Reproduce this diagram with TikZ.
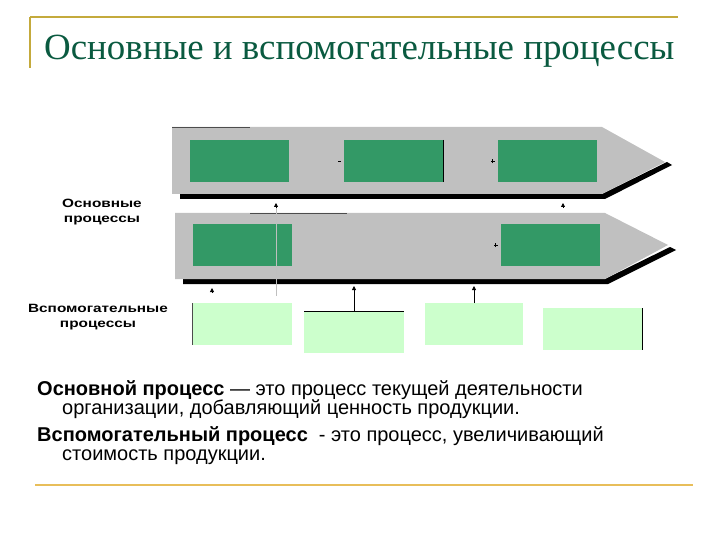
\documentclass[tikz,border=0pt]{standalone}
\usepackage{fontspec}
\setmainfont{Liberation Serif}
\newfontfamily\arialf{Liberation Sans}
\usetikzlibrary{arrows.meta}
\definecolor{gold}{RGB}{196,170,60}
\definecolor{goldlight}{RGB}{232,190,90}
\definecolor{titlegreen}{RGB}{10,90,64}
\definecolor{bandgray}{RGB}{192,192,192}
\definecolor{boxgreen}{RGB}{51,153,102}
\definecolor{lightgreen}{RGB}{204,255,204}
\tikzset{
  band/.style={fill=bandgray, draw=none},
  shadow/.style={fill=black, draw=none},
  mainbox/.style={fill=boxgreen, draw=none, minimum width=99pt, minimum height=42pt, inner sep=0pt, anchor=north west},
  auxbox/.style={fill=lightgreen, draw=none, minimum width=100pt, minimum height=42pt, inner sep=0pt, anchor=north west},
  upar/.style={-{Triangle[width=4pt,length=4pt]}, line width=0.8pt},
  sidelabel/.style={font=\arialf\bfseries\fontsize{12}{15}\selectfont, align=center, xscale=1.28},
  deftext/.style={font=\arialf\fontsize{20}{22}\selectfont, anchor=base west, inner sep=0pt},
}
\begin{document}
\begin{tikzpicture}[x=1pt,y=-1pt]
\useasboundingbox (0,0) rectangle (720,540);
% title frame
\draw[gold, line width=1.5pt] (30,17) -- (678,17);
\draw[gold, line width=1.5pt] (30,17) -- (30,68);
\node[anchor=base west, inner sep=0pt, text=titlegreen, font=\fontsize{36.9}{40}\selectfont] (title) at (44,60) {Основные и вспомогательные процессы};
% bottom line
\draw[goldlight, line width=1.8pt] (35,485) -- (693,485);

% band 1
\fill[shadow] (180,194) -- (602,194) -- (667,162) -- (672,165) -- (605,199) -- (180,199) -- cycle;
\fill[band] (172,127) -- (602,127) -- (665,162) -- (602,194) -- (172,194) -- cycle;
\draw[black!70, line width=0.8pt] (172,127) -- (250,127);
% band 2
\fill[shadow] (183,279) -- (605,279) -- (670,247) -- (676,250) -- (608,284) -- (183,284) -- cycle;
\fill[band] (175,213) -- (605,213) -- (668,245) -- (605,279) -- (175,279) -- cycle;
\draw[black!70, line width=0.8pt] (250,213) -- (347,213);

% main process boxes
\node[mainbox] (m1) at (190,140) {};
\node[mainbox] (m2) at (344,140) {};
\node[mainbox] (m3) at (498,140) {};
\node[mainbox] (m4) at (193,224) {};
\node[mainbox] (m5) at (501,224) {};
\draw[black, line width=0.6pt] (m2.north east) -- (m2.south east);

% small ticks
\draw[black, line width=1pt] ([xshift=-6pt]m2.west) -- ([xshift=-3pt]m2.west);
\draw[black, line width=1pt] ([xshift=-7pt]m3.west) -- ([xshift=-3pt]m3.west);
\draw[black, line width=0.8pt] ([xshift=-6pt,yshift=-2pt]m3.west) -- ([xshift=-6pt,yshift=2pt]m3.west);
\draw[black, line width=1pt] ([xshift=-7pt]m5.west) -- ([xshift=-3pt]m5.west);
\draw[black, line width=0.8pt] ([xshift=-6pt,yshift=-2pt]m5.west) -- ([xshift=-6pt,yshift=2pt]m5.west);

% auxiliary boxes
\node[auxbox] (a1) at (192,303) {};
\node[auxbox] (a2) at (304,311) {};
\node[auxbox, minimum width=98pt] (a3) at (425,303) {};
\node[auxbox, minimum width=99pt] (a4) at (543,308) {};
\draw[black!70, line width=0.6pt] (a1.north west) -- (a1.south west);
\draw[black, line width=0.8pt] (a2.north west) -- (a2.north east);
\draw[black, line width=0.8pt] (a4.north east) -- (a4.south east);

% arrows and arrowheads
\coordinate (t1) at (276,203);
\coordinate (t1b) at (276,208);
\coordinate (t2) at (563,203);
\coordinate (t2b) at (563,208);
\coordinate (t3) at (212,288);
\coordinate (t3b) at (212,293);
\coordinate (p2) at (354,286);
\coordinate (p3) at (474,286);
\draw[black!25, line width=0.6pt] (t1b) -- (276,296);
\draw[upar] (t1b) -- (t1);
\draw[upar] (t2b) -- (t2);
\draw[upar] (t3b) -- (t3);
\draw[upar] (a2.north -| p2) -- (p2);
\draw[upar] (a3.north -| p3) -- (p3);

% side labels
\node[sidelabel] (lmain) at (102,212) {Основные\\процессы};
\node[sidelabel] (laux) at (98,317) {Вспомогательные\\процессы};

% definitions
\node[deftext] (d1) at (37,395) {\textbf{Основной процесс} — это процесс текущей деятельности};
\node[deftext] (d2) at (62,414) {организации, добавляющий ценность продукции.};
\node[deftext] (d3) at (37,441) {\textbf{Вспомогательный процесс}\ \ - это процесс, увеличивающий};
\node[deftext] (d4) at (62,460) {стоимость продукции.};
\end{tikzpicture}
\end{document}
